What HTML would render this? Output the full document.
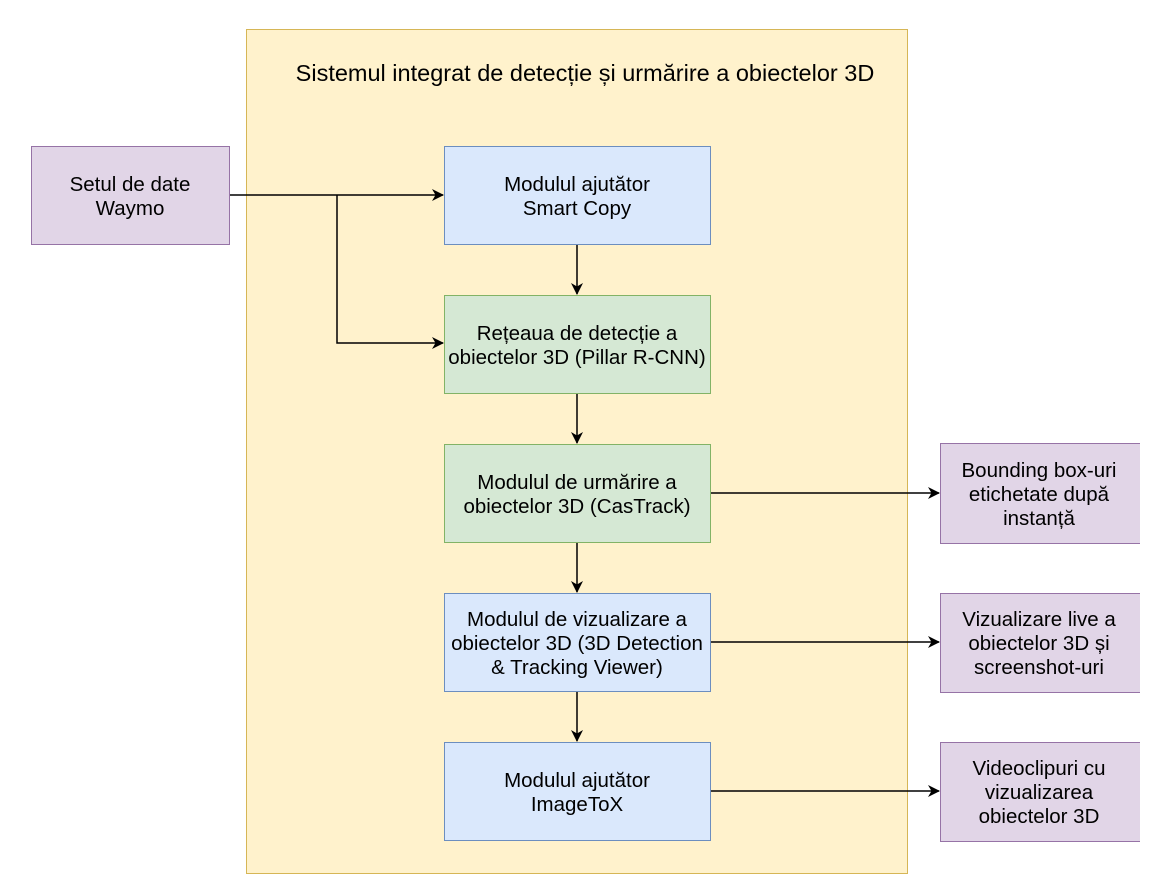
<!DOCTYPE html>
<html><head><meta charset="utf-8"><style>
body{margin:0;background:#fff;width:1167px;height:889px;overflow:hidden;font-family:"Liberation Sans",Arial,sans-serif}
</style></head><body>
<svg width="1167" height="889" xmlns="http://www.w3.org/2000/svg" font-family="Liberation Sans, Arial, sans-serif" font-size="20.5" fill="#000">
<defs><marker id="a" markerWidth="12" markerHeight="12" refX="11" refY="6" orient="auto" markerUnits="userSpaceOnUse"><path d="M0,0 L12,6 L0,12 L3.5,6 z" fill="#000"/></marker></defs>
<rect x="246.5" y="29.5" width="661" height="844" fill="#fff2cc" stroke="#d6b656"/>
<text x="585" y="81" text-anchor="middle" font-size="23.5">Sistemul integrat de detecție și urmărire a obiectelor 3D</text>
<rect x="31.5" y="146.5" width="198" height="98" fill="#e1d5e7" stroke="#9673a6"/>
<text text-anchor="middle"><tspan x="130" y="191">Setul de date</tspan><tspan x="130" y="215">Waymo</tspan></text>
<rect x="444.5" y="146.5" width="266" height="98" fill="#dae8fc" stroke="#6c8ebf"/>
<text text-anchor="middle"><tspan x="577" y="191">Modulul ajutător</tspan><tspan x="577" y="215">Smart Copy</tspan></text>
<rect x="444.5" y="295.5" width="266" height="98" fill="#d5e8d4" stroke="#82b366"/>
<text text-anchor="middle"><tspan x="577" y="340">Rețeaua de detecție a</tspan><tspan x="577" y="364">obiectelor 3D (Pillar R-CNN)</tspan></text>
<rect x="444.5" y="444.5" width="266" height="98" fill="#d5e8d4" stroke="#82b366"/>
<text text-anchor="middle"><tspan x="577" y="489">Modulul de urmărire a</tspan><tspan x="577" y="513">obiectelor 3D (CasTrack)</tspan></text>
<rect x="444.5" y="593.5" width="266" height="98" fill="#dae8fc" stroke="#6c8ebf"/>
<text text-anchor="middle"><tspan x="577" y="626">Modulul de vizualizare a</tspan><tspan x="577" y="650">obiectelor 3D (3D Detection</tspan><tspan x="577" y="674">&amp; Tracking Viewer)</tspan></text>
<rect x="444.5" y="742.5" width="266" height="98" fill="#dae8fc" stroke="#6c8ebf"/>
<text text-anchor="middle"><tspan x="577" y="787">Modulul ajutător</tspan><tspan x="577" y="811">ImageToX</tspan></text>
<g fill="#e1d5e7" stroke="#9673a6">
<path d="M1140,443.5 H940.5 V543.5 H1140" /><path d="M1140,593.5 H940.5 V692.5 H1140"/><path d="M1140,742.5 H940.5 V841.5 H1140"/>
</g>
<text text-anchor="middle"><tspan x="1039" y="477">Bounding box-uri</tspan><tspan x="1039" y="501">etichetate după</tspan><tspan x="1039" y="525">instanță</tspan></text>
<text text-anchor="middle"><tspan x="1039" y="626">Vizualizare live a</tspan><tspan x="1039" y="650">obiectelor 3D și</tspan><tspan x="1039" y="674">screenshot-uri</tspan></text>
<text text-anchor="middle"><tspan x="1039" y="775">Videoclipuri cu</tspan><tspan x="1039" y="799">vizualizarea</tspan><tspan x="1039" y="823">obiectelor 3D</tspan></text>
<g stroke="#000" stroke-width="1.5" fill="none" marker-end="url(#a)">
<path d="M230,195 H443"/>
<path d="M337,195 V343 H443"/>
<path d="M577,245 V294"/>
<path d="M577,394 V443"/>
<path d="M577,543 V592"/>
<path d="M577,692 V741"/>
<path d="M711,493 H939"/>
<path d="M711,642 H939"/>
<path d="M711,791 H939"/>
</g>
</svg>
</body></html>
